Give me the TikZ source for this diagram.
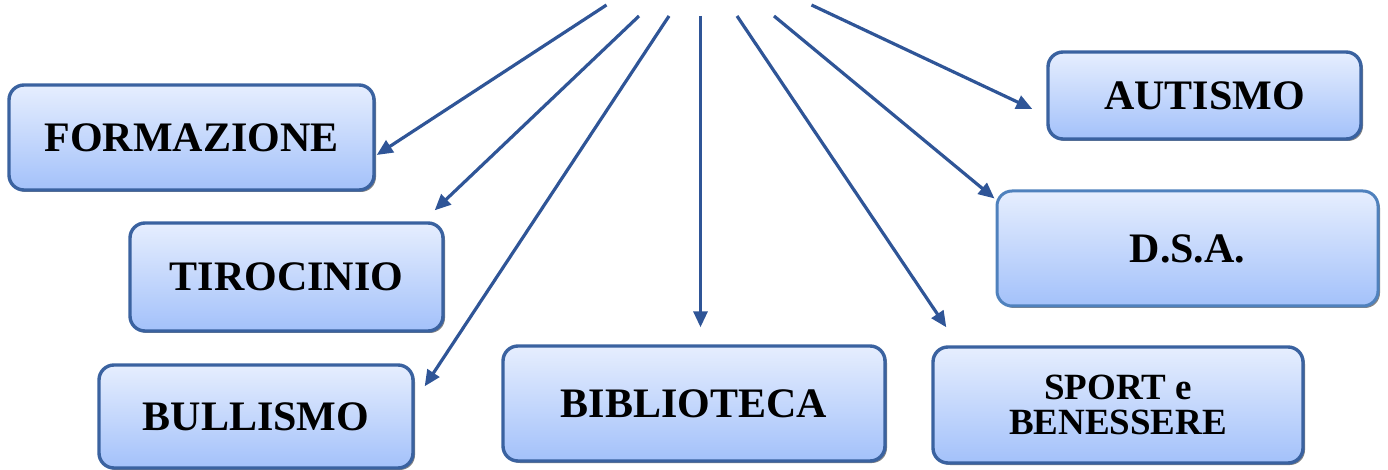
\documentclass[tikz,border=0pt]{standalone}
\usepackage{fontspec}
\setmainfont{Liberation Serif}
\usetikzlibrary{shadows,arrows.meta}
\definecolor{arrowblue}{HTML}{2F5597}
\definecolor{boxborder}{HTML}{3A62A0}
\definecolor{boxborderlight}{HTML}{4F81BD}
\definecolor{boxtop}{HTML}{E6EEFE}
\definecolor{boxbottom}{HTML}{A3C1FA}
\tikzset{
  topicbox/.style={rectangle, rounded corners=7.5pt, draw=boxborder, line width=1.7pt,
    top color=boxtop, bottom color=boxbottom, align=center,
    font=\fontsize{21}{24}\selectfont\bfseries, inner sep=0pt,
    drop shadow={shadow xshift=1pt, shadow yshift=-1pt, fill=black!60, opacity=0.8}},
  link/.style={draw=arrowblue, line width=1.6pt,
    -{Triangle[length=8pt,width=7pt]}}
}
\begin{document}
\begin{tikzpicture}[x=0.5pt,y=-0.5pt]
\useasboundingbox (0,0) rectangle (1388,470);
\node[topicbox, minimum width=182.5pt, minimum height=52.5pt] (form) at (191.5,137.5) {FORMAZIONE};
\node[topicbox, minimum width=156.5pt, minimum height=54pt] (tiro) at (286.5,277) {TIROCINIO};
\node[topicbox, minimum width=157pt, minimum height=51.5pt] (bull) at (256,416.5) {BULLISMO};
\node[topicbox, minimum width=191pt, minimum height=57.5pt] (bibl) at (694,403.5) {BIBLIOTECA};
\node[topicbox, minimum width=185pt, minimum height=58pt, font=\fontsize{18.5}{17.5}\selectfont\bfseries] (sport) at (1118,405) {\raisebox{-2pt}{SPORT e}\\\raisebox{-2pt}{BENESSERE}};
\node[topicbox, draw=boxborderlight, line width=1.5pt, minimum width=190.5pt, minimum height=57.5pt] (dsa) at (1187.5,248.5) {D.S.A.};
\node[topicbox, minimum width=156.5pt, minimum height=43.5pt] (auto) at (1204.5,95.5) {AUTISMO};

\coordinate (s1) at (606.5,5);
\coordinate (s2) at (639,16);
\coordinate (s3) at (669,16);
\coordinate (s4) at (700.5,16);
\coordinate (s5) at (737,16);
\coordinate (s6) at (774,16);
\coordinate (s7) at (811.5,5);

\draw[link] (s1) -- ([shift={(1,17.5)}]form.east);
\draw[link] (s2) -- ([shift={(-10,-11)}]tiro.north east);
\draw[link] (s3) -- ([shift={(10,23)}]bull.north east);
\draw[link] (s4) -- ([shift={(6.5,-17)}]bibl.north);
\draw[link] (s5) -- ([shift={(15,-18)}]sport.north west);
\draw[link] (s6) -- ([shift={(-1,9)}]dsa.north west);
\draw[link] (s7) -- ([shift={(-14,13.5)}]auto.west);
\end{tikzpicture}
\end{document}
